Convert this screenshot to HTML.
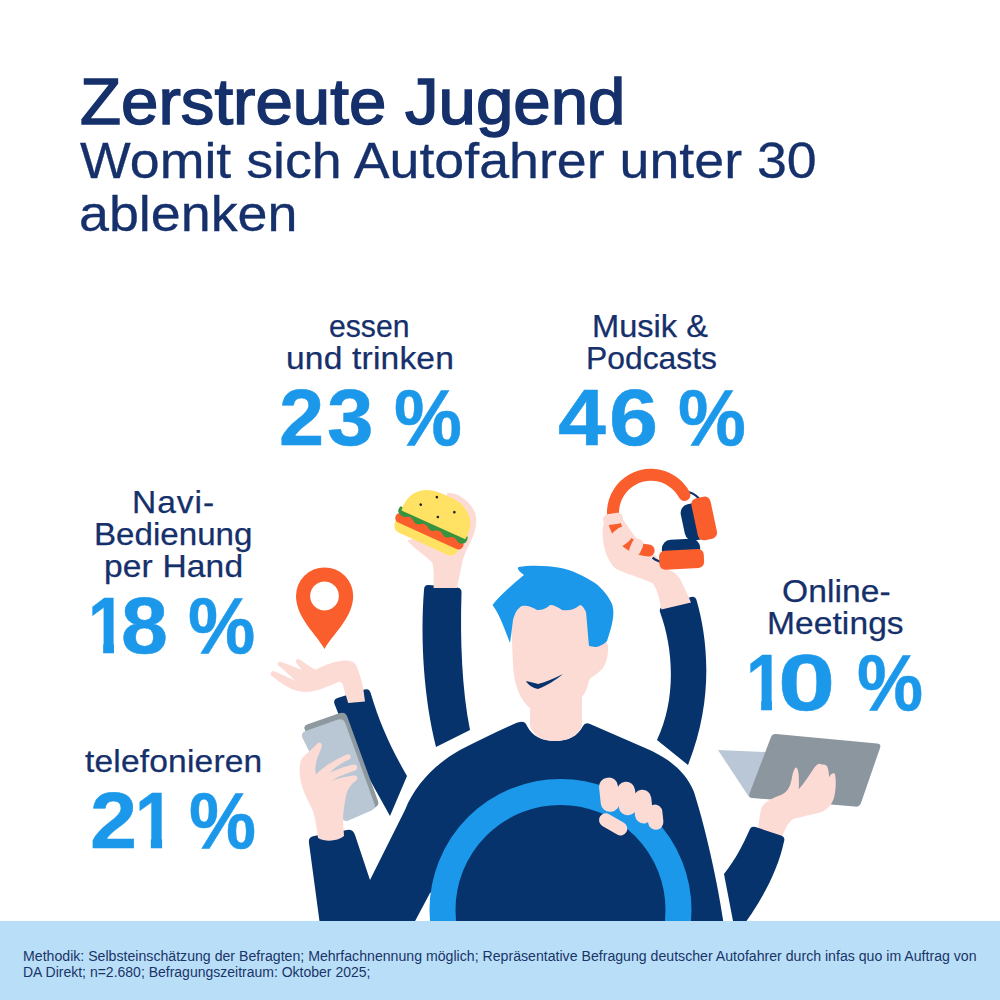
<!DOCTYPE html>
<html lang="de">
<head>
<meta charset="utf-8">
<title>Zerstreute Jugend</title>
<style>
html,body{margin:0;padding:0;}
body{width:1000px;height:1000px;position:relative;overflow:hidden;background:#fff;font-family:"Liberation Sans",sans-serif;color:#15306b;}
#foot{position:absolute;left:0;top:921px;width:1000px;height:79px;background:#b9dff8;}
#art{position:absolute;left:0;top:0;}
h1,p,div.stat{margin:0;padding:0;font-weight:normal;font-size:0;line-height:0;}
</style>
</head>
<body>
<svg id="art" width="1000" height="1000" viewBox="0 0 1000 1000">
<!-- ===== burger arm ===== -->
<g id="burgerarm">
  <path fill="#06336b" d="M424,590 Q424,584.5 429,585 L457,587.5 Q462,588 461.5,593 C460,640 462,690 470,730 L436,747 C424,700 420,640 424,590 Z"/>
  <g transform="translate(385 480) scale(0.12)">
    <path fill="#fddbd5" d="M405,900 C408,800 405,730 395,690 C350,640 270,590 200,520 C185,505 190,495 210,500 L400,400 L520,110 C600,100 700,170 745,260 C775,330 760,420 720,500 C690,560 660,620 645,680 L600,900 Z"/>
  </g>
  <g transform="translate(433.6,524.4) rotate(24.4)">
    <path fill="#ffe163" d="M-36,9 h69 v5 a8,8 0 0 1 -8,8 h-53 a8,8 0 0 1 -8,-8 z"/>
    <rect fill="#fa5e2c" x="-38" y="3" width="74" height="10" rx="5"/>
    <path fill="#37933f" d="M-37.5,-3 L36,-3 Q38,1 36,4.5 Q32,8 28,5 Q24,2 20,5 Q16,8.5 12,5 Q8,2 4,5 Q0,8.5 -4,5 Q-8,2 -12,5 Q-16,8.5 -20,5 Q-24,2 -28,4.5 Q-33,7 -37.5,3 Q-39,0 -37.5,-3 Z"/>
    <path fill="#ffe163" d="M-35,0.5 C-37,-14 -30,-31.5 -4,-31.5 L4,-31.5 C30,-31.5 37,-14 35,0.5 Z"/>
    <circle fill="#1d1d1b" cx="-8.3" cy="-26.2" r="1.3"/><circle fill="#1d1d1b" cx="-19.9" cy="-12.7" r="1.3"/>
    <circle fill="#1d1d1b" cx="13.9" cy="-19.7" r="1.3"/><circle fill="#1d1d1b" cx="0.8" cy="-8.5" r="1.3"/>
  </g>
</g>
<!-- ===== navi arm + pin ===== -->
<g id="naviarm">
  <path fill="#06336b" d="M334.5,704 Q333,699.5 337.5,698 L364.5,689.5 Q369,688 370.5,692.5 C380,725 392,750 407,776 L390,816 C370,780 350,745 334.5,704 Z"/>
  <g transform="translate(260 640) scale(0.14)">
    <path fill="#fddbd5" d="M95,222 C72,226 70,252 92,262 C150,310 220,360 300,370 C390,378 480,335 560,300 C585,292 596,325 600,350 L630,450 L750,440 L738,350 C728,290 710,235 692,192 C678,152 640,140 580,148 C510,158 450,185 395,212 C360,190 320,165 290,142 C270,128 248,140 258,160 C270,180 285,195 300,215 C250,195 190,170 150,158 C128,152 115,172 135,185 C170,210 210,250 250,290 C200,270 150,240 95,222 Z"/>
  </g>
  <path fill="#fa5e2c" fill-rule="evenodd" d="M324.5,649 C318,636 296,618 296,596 A28.6,28.6 0 0 1 353.2,596 C353.2,618 331,636 324.5,649 Z M324.5,581.6 a14.4,14.4 0 1 0 0.01,0 Z"/>
</g>
<!-- ===== headphone arm ===== -->
<g id="hparm">
  <path fill="#06336b" d="M660,612 Q659,608 663,606 L691,597 Q695,596 696.5,600 C708,640 714,700 688,765 L657,740 C676,700 674,650 660,612 Z"/>
  <g transform="translate(595 460) scale(0.16)">
    <path fill="#fddbd5" d="M415,935 C400,850 385,800 360,770 C300,740 200,715 130,680 C85,640 55,570 48,480 C45,420 55,380 78,360 C95,340 140,338 160,352 L250,480 L380,600 L440,680 C480,690 510,710 530,740 C555,790 575,830 600,890 Z"/>
    <path fill="none" stroke="#06336b" stroke-width="14" d="M585,200 Q635,215 655,250 M360,610 Q390,635 430,640"/>
    <path fill="none" stroke="#fa5e2c" stroke-width="75" stroke-linecap="round" d="M559,219 A237,237 0 1 0 335,566"/>
    <rect fill="#fddbd5" x="50" y="334" width="125" height="68" rx="32" transform="rotate(-8 115 368)"/>
    <rect fill="#fddbd5" x="98" y="426" width="134" height="104" rx="48" transform="rotate(-38 165 478)"/>
    <rect fill="#fddbd5" x="203" y="509" width="110" height="72" rx="34" transform="rotate(-66 258 545)"/>
    <g transform="rotate(-12 660 370)">
      <path fill="#06336b" d="M600,262 h60 v232 h-60 a55,55 0 0 1 -55,-55 v-122 a55,55 0 0 1 55,-55 z"/>
      <rect fill="#fa5e2c" x="622" y="236" width="122" height="268" rx="38"/>
    </g>
    <g transform="rotate(-3 540 600)">
      <rect fill="#06336b" x="420" y="495" width="240" height="120" rx="58"/>
      <rect fill="#fa5e2c" x="400" y="562" width="280" height="118" rx="36"/>
    </g>
  </g>
</g>
<!-- ===== laptop arm ===== -->
<g id="laptoparm">
  <path fill="#b9c7d6" d="M718,750 L766,752 L749,797 Z"/>
  <path fill="#8b969e" d="M771,737 Q772.5,733.5 776,734 L877,743.5 Q881.5,744 880,748 L861,803 Q859.5,807 855,806.6 L752,798 Q748,797.5 749.5,793.5 Z"/>
  <g transform="translate(740 740) scale(0.12)">
    <path fill="#fddbd5" d="M150,760 C162,650 170,580 185,555 C210,510 280,480 340,458 C390,440 415,400 430,330 C440,270 455,230 468,230 C485,232 495,290 490,410 C530,370 580,290 620,230 C640,200 665,190 680,205 C700,200 725,205 730,230 C740,260 742,290 742,310 C755,285 775,270 788,280 C800,300 802,380 790,450 C780,520 740,575 680,600 C600,625 500,640 440,660 C400,690 370,740 345,830 Z"/>
  </g>
  <path fill="#06336b" d="M749.5,830 Q751,825.5 755.5,827 L781,835.5 Q785.5,837 784,841.5 C778,870 762,902 736,935 L733,921 L724,874 C735,860 743,845 749.5,830 Z"/>
</g>
<!-- ===== body (torso + left arm) ===== -->
<path id="body" fill="#06336b" stroke="#fff" stroke-width="11" stroke-linejoin="round" paint-order="stroke"
 d="M517.5,722.5 C500,730 480,740 460,750 C435,764 415,785 405,810 L370,880 L355,835 Q353,829 347,830 L314,836 Q308,837 309,843 L322,940 L405,940 L430,893 L560,800 L560,940 L726,940 C720,893 707,833 694,792 C686,772 670,760 652,751 L590,724 Q585,722 583,726 C578,736 568,741 555,741 C542,741 532,736 527,726 Q525,721 520,722 Z"/>
<!-- ===== phone + hand (over cuff) ===== -->
<g id="phone">
  <path fill="#8d989f" d="M305,730 Q303,726 307,724.5 L340,713 Q345,711.5 347,716 L378,801 Q379.5,805.5 375,807.5 L346,820 Z"/>
  <path fill="#b9c6d3" d="M302.5,738 Q300.5,733 305.5,731 L338,719.5 Q343,718 345,722.5 L374.5,804 Q376,808.5 371.5,810.5 L348.5,820.5 Q344,822.5 342,817.5 Z"/>
  <path fill="#b9c6d3" d="M311,752 L324,752 L324,778 L313,778 Z"/>
  <g transform="translate(290 700) scale(0.2)">
    <path fill="#fddbd5" d="M140,690 C135,640 125,590 115,555 C85,490 55,440 50,380 C45,330 50,300 70,280 C100,255 125,230 140,215 C155,205 165,225 155,245 C135,290 120,330 130,372 C170,330 240,290 285,272 C305,268 310,290 295,298 C260,315 225,335 200,362 C250,340 295,325 320,322 C340,322 340,345 325,352 C280,368 235,385 205,405 C250,390 300,378 325,378 C340,380 340,398 328,405 C305,420 285,450 280,480 C272,520 266,560 265,600 L270,680 C240,705 180,712 140,690 Z"/>
  </g>
</g>
<!-- ===== head ===== -->
<g id="head">
  <path fill="#fddbd5" d="M530,726 L530,708 C520,700 514,685 513,665 L511,620 C511,605 520,598 535,598 L585,598 C597,598 603,606 603,620 L603,640 C607,640 609,645 608,652 C607,662 604,668 600,671 C596,675 591,677 589,680 C588,686 586,692 582,697 L582,726 C578,736 568,741 555,741 C542,741 534,736 530,726 Z"/>
  <path fill="#1b98ea" d="M510,643 C505,630 500,615 492.5,605 C500,595 512,585 524,575 C520,572 516.5,569 518.5,567 C530,565 547,565.5 561,568 C572,570 584,576 595,583 C602,588 609,597 612,604 C614,610 613.5,616 612.5,621 C611.5,628 609,634 607,641 C603,645 598,647 595,647 L589,646 C588,636 587,622 586,612 C584,608 582,605 580,605 C574,610 568,611 562,610 C558,607 554,605 550,605 C546,609 542,610 537,610 C532,607 527,605 522,606 C518,608 515,612 513,620 C512,628 511,636 510,643 Z"/>
  <path fill="#06336b" d="M526,681 C530,682 535,683 538,684 C546,682 555,678 563,674 C556,680 546,686 538,689 C533,688 528,685 526,681 Z"/>
</g>
<!-- ===== wheel ===== -->
<g id="wheel">
  <circle cx="560.5" cy="910" r="118" fill="#06336b" stroke="#1b98ea" stroke-width="26"/>
  <g transform="translate(590 765) scale(0.09)" fill="#fddbd5">
    <rect x="640" y="440" width="170" height="280" rx="85" transform="rotate(-6 725 580)"/>
    <rect x="490" y="275" width="200" height="375" rx="100" transform="rotate(-6 590 460)"/>
    <rect x="310" y="185" width="200" height="375" rx="100" transform="rotate(-6 410 370)"/>
    <rect x="110" y="140" width="210" height="380" rx="100" transform="rotate(-6 215 330)"/>
    <rect x="87" y="585" width="340" height="150" rx="75" transform="rotate(30 257 660)"/>
  </g>
</g>
</svg>
<div id="foot"></div>
<h1><span class="t" id="h1" style="position:absolute;white-space:nowrap;line-height:1;left:79.64px;top:70.02px;font-size:64px;color:#15306b;letter-spacing:0.000px;transform-origin:0 0;transform:scaleX(1.0502);-webkit-text-stroke:1.5px #15306b;">Zerstreute Jugend</span></h1>
<p><span class="t" id="h2a" style="position:absolute;white-space:nowrap;line-height:1;left:79.77px;top:135.68px;font-size:50px;color:#15306b;letter-spacing:0.000px;transform-origin:0 0;transform:scaleX(1.0747);-webkit-text-stroke:0.3px #15306b;">Womit sich Autofahrer unter 30</span> <span class="t" id="h2b" style="position:absolute;white-space:nowrap;line-height:1;left:78.77px;top:188.98px;font-size:50px;color:#15306b;letter-spacing:0.000px;transform-origin:0 0;transform:scaleX(1.0761);-webkit-text-stroke:0.3px #15306b;">ablenken</span></p>
<div class="stat"><p><span class="t" id="l1a" style="position:absolute;white-space:nowrap;line-height:1;left:329.22px;top:311.38px;font-size:30.5px;color:#15306b;letter-spacing:0.000px;transform-origin:0 0;transform:scaleX(0.9893);-webkit-text-stroke:0.25px #15306b;">essen</span> <span class="t" id="l1b" style="position:absolute;white-space:nowrap;line-height:1;left:286.34px;top:342.78px;font-size:30.5px;color:#15306b;letter-spacing:0.169px;transform-origin:0 0;transform:scaleX(1.1000);-webkit-text-stroke:0.25px #15306b;">und trinken</span></p><p class="num" style="position:absolute;left:0;top:377.78px;margin:0;white-space:nowrap;line-height:1;font-size:80px;font-weight:bold;color:#1b98ea;-webkit-text-stroke:0.5px #1b98ea;"><span id="n1a" style="display:inline-block;position:relative;left:278.53px;transform-origin:0 0;transform:scaleX(1.0147);">2</span><span id="n1b" style="display:inline-block;position:relative;left:282.77px;transform-origin:0 0;transform:scaleX(1.0453);">3</span> <span id="n1p" style="display:inline-block;position:relative;left:282.33px;transform-origin:0 0;transform:scaleX(0.9546);">%</span></p></div>
<div class="stat"><p><span class="t" id="l2a" style="position:absolute;white-space:nowrap;line-height:1;left:592.47px;top:311.38px;font-size:30.5px;color:#15306b;letter-spacing:0.000px;transform-origin:0 0;transform:scaleX(1.0685);-webkit-text-stroke:0.25px #15306b;">Musik &amp;</span> <span class="t" id="l2b" style="position:absolute;white-space:nowrap;line-height:1;left:585.53px;top:342.78px;font-size:30.5px;color:#15306b;letter-spacing:0.000px;transform-origin:0 0;transform:scaleX(1.0435);-webkit-text-stroke:0.25px #15306b;">Podcasts</span></p><p class="num" style="position:absolute;left:0;top:377.78px;margin:0;white-space:nowrap;line-height:1;font-size:80px;font-weight:bold;color:#1b98ea;-webkit-text-stroke:0.5px #1b98ea;"><span id="n2a" style="display:inline-block;position:relative;left:557.68px;transform-origin:0 0;transform:scaleX(1.0754);">4</span><span id="n2b" style="display:inline-block;position:relative;left:564.37px;transform-origin:0 0;transform:scaleX(1.1024);">6</span> <span id="n2p" style="display:inline-block;position:relative;left:566.64px;transform-origin:0 0;transform:scaleX(0.9537);">%</span></p></div>
<div class="stat"><p><span class="t" id="l3a" style="position:absolute;white-space:nowrap;line-height:1;left:131.60px;top:486.88px;font-size:30.5px;color:#15306b;letter-spacing:0.875px;transform-origin:0 0;transform:scaleX(1.1000);-webkit-text-stroke:0.25px #15306b;">Navi-</span><span class="t" id="l3b" style="position:absolute;white-space:nowrap;line-height:1;left:94.44px;top:518.88px;font-size:30.5px;color:#15306b;letter-spacing:0.000px;transform-origin:0 0;transform:scaleX(1.0864);-webkit-text-stroke:0.25px #15306b;">Bedienung</span> <span class="t" id="l3c" style="position:absolute;white-space:nowrap;line-height:1;left:103.82px;top:550.88px;font-size:30.5px;color:#15306b;letter-spacing:0.137px;transform-origin:0 0;transform:scaleX(1.1000);-webkit-text-stroke:0.25px #15306b;">per Hand</span></p><p class="num" style="position:absolute;left:0;top:586.28px;margin:0;white-space:nowrap;line-height:1;font-size:80px;font-weight:bold;color:#1b98ea;-webkit-text-stroke:0.5px #1b98ea;"><span id="n3a" style="display:inline-block;position:relative;left:87.83px;transform-origin:0 0;transform:scaleX(0.8517);"><span style="display:inline-block;clip-path:polygon(0 0,100% 0,100% 72%,68.5% 72%,68.5% 100%,40% 100%,40% 72%,0 72%)">1</span></span><span id="n3b" style="display:inline-block;position:relative;left:76.86px;transform-origin:0 0;transform:scaleX(1.0547);">8</span> <span id="n3p" style="display:inline-block;position:relative;left:77.16px;transform-origin:0 0;transform:scaleX(0.9458);">%</span></p></div>
<div class="stat"><p><span class="t" id="l4" style="position:absolute;white-space:nowrap;line-height:1;left:84.62px;top:745.78px;font-size:30.5px;color:#15306b;letter-spacing:0.159px;transform-origin:0 0;transform:scaleX(1.1000);-webkit-text-stroke:0.25px #15306b;">telefonieren</span></p><p class="num" style="position:absolute;left:0;top:781.28px;margin:0;white-space:nowrap;line-height:1;font-size:80px;font-weight:bold;color:#1b98ea;-webkit-text-stroke:0.5px #1b98ea;"><span id="n4a" style="display:inline-block;position:relative;left:90.46px;transform-origin:0 0;transform:scaleX(1.0599);">2</span><span id="n4b" style="display:inline-block;position:relative;left:90.85px;transform-origin:0 0;transform:scaleX(0.8889);"><span style="display:inline-block;clip-path:polygon(0 0,100% 0,100% 72%,68.5% 72%,68.5% 100%,40% 100%,40% 72%,0 72%)">1</span></span> <span id="n4p" style="display:inline-block;position:relative;left:77.37px;transform-origin:0 0;transform:scaleX(0.9426);">%</span></p></div>
<div class="stat"><p><span class="t" id="l5a" style="position:absolute;white-space:nowrap;line-height:1;left:781.51px;top:576.18px;font-size:30.5px;color:#15306b;letter-spacing:0.079px;transform-origin:0 0;transform:scaleX(1.1000);-webkit-text-stroke:0.25px #15306b;">Online-</span><span class="t" id="l5b" style="position:absolute;white-space:nowrap;line-height:1;left:767.40px;top:607.68px;font-size:30.5px;color:#15306b;letter-spacing:0.065px;transform-origin:0 0;transform:scaleX(1.1000);-webkit-text-stroke:0.25px #15306b;">Meetings</span></p><p class="num" style="position:absolute;left:0;top:643.28px;margin:0;white-space:nowrap;line-height:1;font-size:80px;font-weight:bold;color:#1b98ea;-webkit-text-stroke:0.5px #1b98ea;"><span id="n5a" style="display:inline-block;position:relative;left:746.03px;transform-origin:0 0;transform:scaleX(0.8517);"><span style="display:inline-block;clip-path:polygon(0 0,100% 0,100% 72%,68.5% 72%,68.5% 100%,40% 100%,40% 72%,0 72%)">1</span></span><span id="n5b" style="display:inline-block;position:relative;left:733.64px;transform-origin:0 0;transform:scaleX(1.2850);">0</span> <span id="n5p" style="display:inline-block;position:relative;left:745.62px;transform-origin:0 0;transform:scaleX(0.9288);">%</span></p></div>
<p><span class="t" id="f1" style="position:absolute;white-space:nowrap;line-height:1;left:22.75px;top:948.95px;font-size:14px;color:#1a3468;letter-spacing:0.000px;transform-origin:0 0;transform:scaleX(1.0093);">Methodik: Selbsteinschätzung der Befragten; Mehrfachnennung möglich; Repräsentative Befragung deutscher Autofahrer durch infas quo im Auftrag von</span> <span class="t" id="f2" style="position:absolute;white-space:nowrap;line-height:1;left:22.75px;top:964.55px;font-size:14px;color:#1a3468;letter-spacing:0.000px;transform-origin:0 0;transform:scaleX(0.9999);">DA Direkt; n=2.680; Befragungszeitraum: Oktober 2025;</span></p>
</body></html>
